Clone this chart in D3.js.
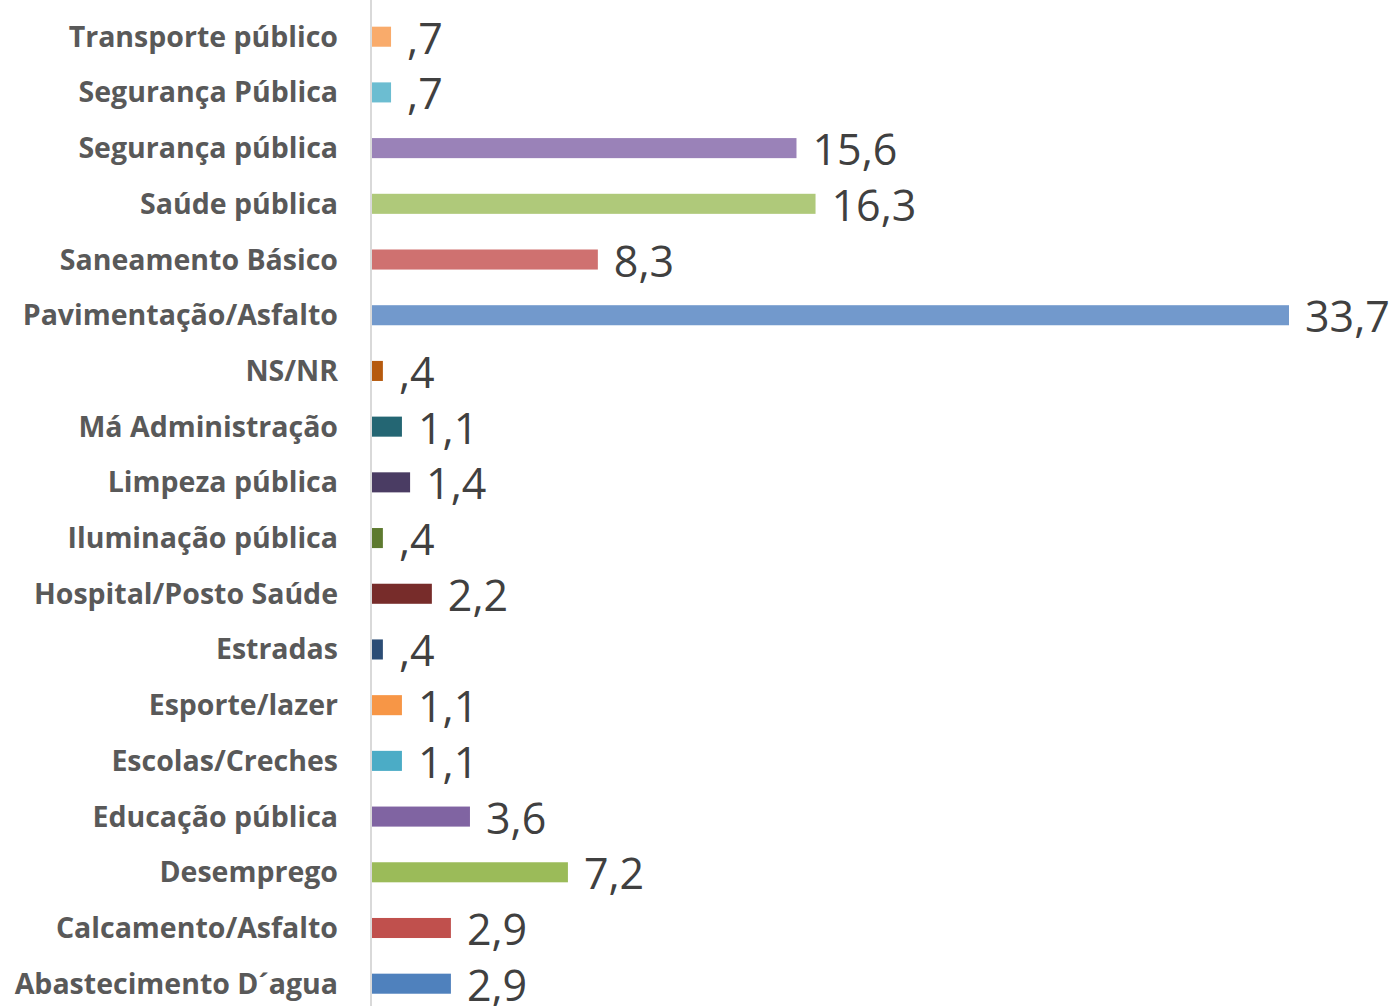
<!DOCTYPE html>
<html>
<head>
<meta charset="utf-8">
<script src="https://d3js.org/d3.v7.min.js"></script>
<style>
body { margin: 0; background: #fff; }
.cat { font-family: "Open Sans", sans-serif; font-weight: bold; fill: #595959; }
.val { font-family: "Open Sans", sans-serif; fill: #404040; }
</style>
</head>
<body>
<div id="chart"></div>
<script>
var categories = ["Transporte público", "Segurança Pública", "Segurança pública", "Saúde pública",
  "Saneamento Básico", "Pavimentação/Asfalto", "NS/NR", "Má Administração", "Limpeza pública",
  "Iluminação pública", "Hospital/Posto Saúde", "Estradas", "Esporte/lazer", "Escolas/Creches",
  "Educação pública", "Desemprego", "Calcamento/Asfalto", "Abastecimento D´agua"];
var values = [0.7, 0.7, 15.6, 16.3, 8.3, 33.7, 0.4, 1.1, 1.4, 0.4, 2.2, 0.4, 1.1, 1.1, 3.6, 7.2, 2.9, 2.9];
var colors = ["#F9AB6B", "#6CBDD1", "#9A82B8", "#AFC97A", "#CF7170", "#7299CC", "#B65A0E", "#246673",
  "#4A3C63", "#5E7A30", "#772C2A", "#2C4D75", "#F79646", "#4BACC6", "#8064A2", "#9BBB59", "#C0504D", "#4F81BD"];

var W = 1391, H = 1006;
var x0 = 372;

var svg = d3.select("#chart").append("svg")
  .attr("width", W).attr("height", H);

var x = d3.scaleLinear().domain([0, 33.7]).range([x0, 1289]);
var y = d3.scaleBand().domain(categories).range([8.85, 1011.55]).paddingInner(0.64).paddingOuter(0.32);

function fmt(v) {
  var s = v.toFixed(1).replace(".", ",");
  return s.charAt(0) === "0" ? s.slice(1) : s;
}

svg.selectAll("rect.bar")
  .data(values)
  .enter().append("rect")
    .attr("class", "bar")
    .attr("x", x(0))
    .attr("y", function(d, i) { return y(categories[i]); })
    .attr("width", function(d) { return x(d) - x(0); })
    .attr("height", y.bandwidth())
    .style("fill", function(d, i) { return colors[i]; });

// axis line
svg.append("line")
  .attr("x1", 371).attr("x2", 371)
  .attr("y1", 0).attr("y2", H)
  .attr("stroke", "#d9d9d9").attr("stroke-width", 2);

svg.selectAll("text.cat")
  .data(categories)
  .enter().append("text")
    .attr("class", "cat")
    .attr("x", 338)
    .attr("y", function(d) { return y(d) + y.bandwidth() / 2 + 10; })
    .attr("text-anchor", "end")
    .style("font-size", "28.5px")
    .text(function(d) { return d; });

svg.selectAll("text.val")
  .data(values)
  .enter().append("text")
    .attr("class", "val")
    .attr("x", function(d) { return x(d) + 16; })
    .attr("y", function(d, i) { return y(categories[i]) + y.bandwidth() / 2 + 17; })
    .style("font-size", "43px")
    .text(function(d) { return fmt(d); });
</script>
</body>
</html>
